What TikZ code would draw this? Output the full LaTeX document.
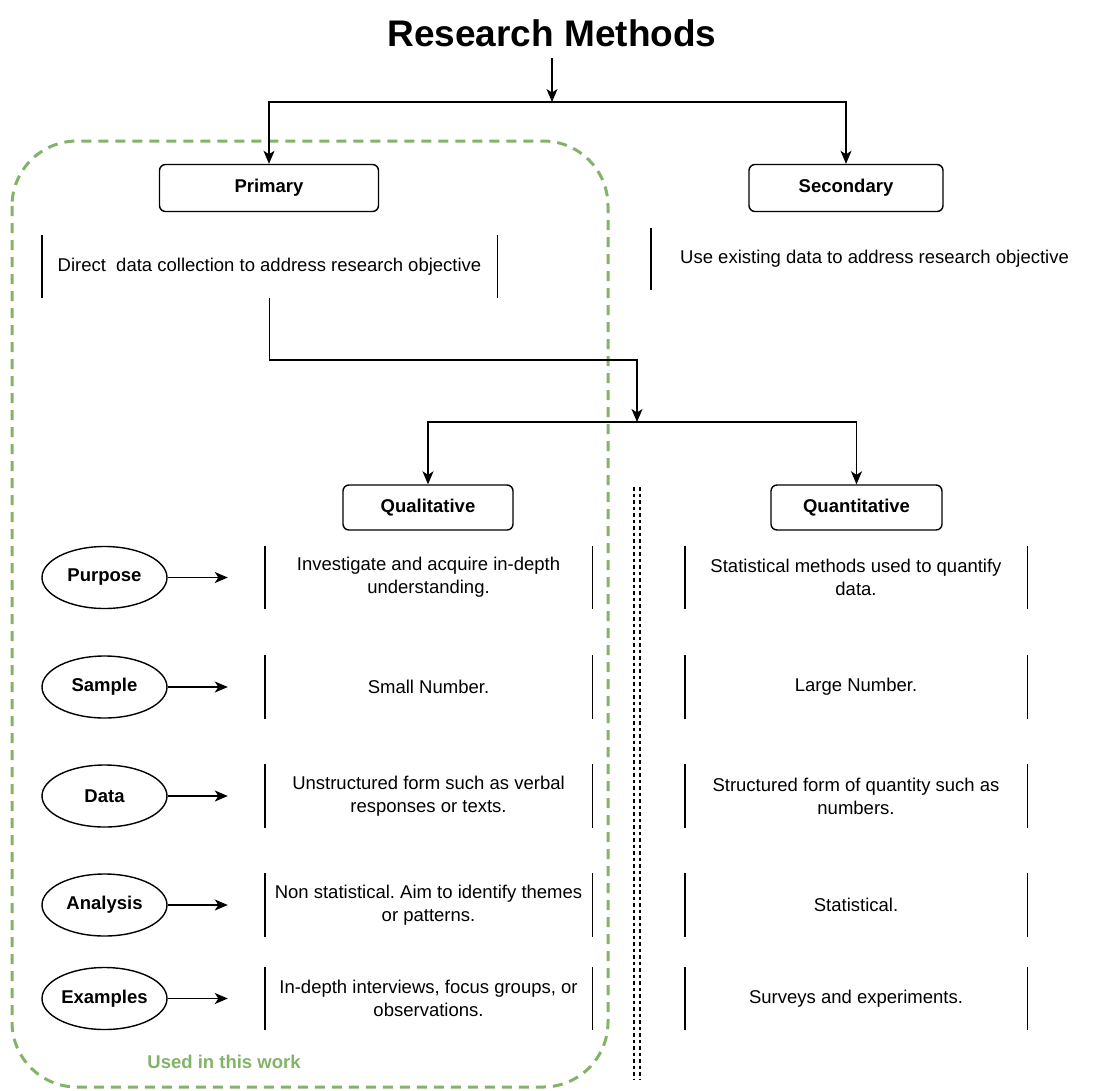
\documentclass[tikz,border=0pt]{standalone}
\usepackage{xcolor}
\usepackage{fontspec}
\setmainfont{Liberation Sans}
\usepackage{tikz}
\usetikzlibrary{arrows.meta, positioning, shapes.geometric}
\definecolor{usedgreen}{HTML}{82B366}
\frenchspacing

\begin{document}
\begin{tikzpicture}[
    x=1pt, y=-1pt,
    font=\fontsize{18.5}{23}\selectfont,
    box/.style={rectangle, draw, rounded corners=6pt, line width=1.4pt, minimum width=219pt, minimum height=47pt, align=center, font=\fontsize{18.5}{23}\selectfont\bfseries},
    item/.style={ellipse, draw, line width=1.4pt, minimum width=125pt, minimum height=62pt, inner sep=1pt, font=\fontsize{18.5}{23}\selectfont\bfseries},
    desc/.style={rectangle, inner sep=0pt, minimum height=63pt, align=center,
        append after command={(\tikzlastnode.north west) edge[line width=1.4pt] (\tikzlastnode.south west)
                              (\tikzlastnode.north east) edge[line width=1.4pt] (\tikzlastnode.south east)}},
    leftbar/.style={rectangle, inner ysep=0pt, inner xsep=29pt, minimum height=62pt, anchor=west,
        append after command={(\tikzlastnode.north west) edge[line width=1.4pt] (\tikzlastnode.south west)}},
    arrow/.style={-{Stealth[length=13pt, width=11pt, inset=3.5pt]}, line width=1.4pt},
    sep/.style={line width=1.3pt, dash pattern=on 3.5pt off 3pt},
]
\useasboundingbox (0,0) rectangle (1097,1090);

% frame of the part used in this work
\draw[usedgreen, line width=3pt, dash pattern=on 10pt off 7pt, rounded corners=65pt] (12,141) rectangle (608,1087);
\node[text=usedgreen, font=\fontsize{18.5}{23}\selectfont\bfseries] (used) at (224,1062) {Used in this work};

\node[font=\fontsize{37}{40}\selectfont\bfseries] (title) at (552,33) {Research Methods};
\coordinate (split1) at (552,102);
\node[box] (primary) at (269,188) {Primary};
\node[box, minimum width=194pt] (secondary) at (846,188) {Secondary};

\node[desc, minimum width=455pt] (primdesc) at (269.5,266.5) {Direct\ \ data collection to address research objective};
\node[leftbar] (secdesc) at (651,259) {Use existing data to address research objective};

\coordinate (split2) at (637,422);
\node[box, minimum width=170pt, minimum height=45pt] (qual) at (428,507.5) {Qualitative};
\node[box, minimum width=171pt, minimum height=45pt] (quan) at (856.5,507.5) {Quantitative};

\draw[arrow, shorten <=8pt] (title) -- (split1);
\draw[arrow] (split1) -| (primary);
\draw[arrow] (split1) -| (secondary);
\draw[arrow] (primdesc.south) |- ([yshift=62pt]split2) -- (split2);
\draw[arrow] (split2) -| (qual);
\draw[arrow] (split2) -| (quan);

% separator between the two columns
\draw[sep] (634,487) -- (634,1080);
\draw[sep] (640,487) -- (640,1080);

% rows
\node[item] (purpose) at (104.5,577.5) {Purpose};
\node[desc, minimum width=327pt] (qlpurpose) at (428.5,577.5) {Investigate and acquire in-depth\\understanding.};
\node[desc, minimum width=342pt] (qnpurpose) at (856,577.5) {Statistical methods used to quantify\\data.};

\node[item] (sample) at (104.5,687) {Sample};
\node[desc, minimum width=327pt] (qlsample) at (428.5,687) {Small Number.};
\node[desc, minimum width=342pt] (qnsample) at (856,687) {Large Number.};

\node[item] (data) at (104.5,796) {Data};
\node[desc, minimum width=327pt] (qldata) at (428.5,796) {Unstructured form such as verbal\\responses or texts.};
\node[desc, minimum width=342pt] (qndata) at (856,796) {Structured form of quantity such as\\numbers.};

\node[item] (analysis) at (104.5,905) {Analysis};
\node[desc, minimum width=327pt] (qlanalysis) at (428.5,905) {Non statistical. Aim to identify themes\\or patterns.};
\node[desc, minimum width=342pt] (qnanalysis) at (856,905) {Statistical.};

\node[item] (examples) at (104.5,998.5) {Examples};
\node[desc, minimum width=327pt] (qlexamples) at (428.5,998.5) {In-depth interviews, focus groups, or\\observations.};
\node[desc, minimum width=342pt] (qnexamples) at (856,998.5) {Surveys and experiments.};

\draw[arrow, shorten >=37pt] (purpose) -- (qlpurpose);
\draw[arrow, shorten >=37pt] (sample) -- (qlsample);
\draw[arrow, shorten >=37pt] (data) -- (qldata);
\draw[arrow, shorten >=37pt] (analysis) -- (qlanalysis);
\draw[arrow, shorten >=37pt] (examples) -- (qlexamples);

\end{tikzpicture}
\end{document}
